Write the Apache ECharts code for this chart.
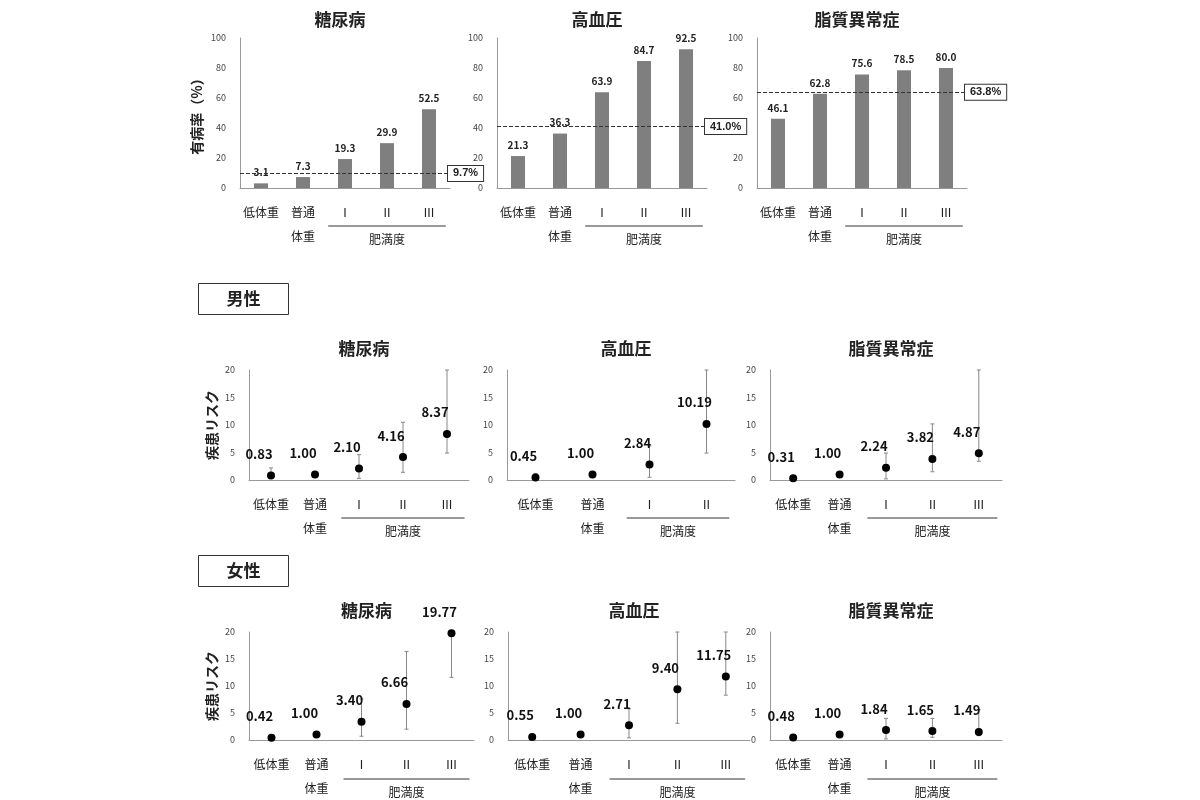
<!DOCTYPE html>
<html><head><meta charset="utf-8">
<script src="https://cdn.jsdelivr.net/npm/echarts@6/dist/echarts.min.js"></script>
<style>html,body{margin:0;background:#fff}#c{width:1200px;height:800px}</style>
</head><body><div id="c"></div>
<script>
const diseases = ['糖尿病','高血圧','脂質異常症'];
const cats5 = ['低体重','普通\n体重','Ⅰ','Ⅱ','Ⅲ'];
const cats4 = ['低体重','普通\n体重','Ⅰ','Ⅱ'];
// prevalence (%)
const prevDiabetes = [3.1,7.3,19.3,29.9,52.5];
const prevHypertension = [21.3,36.3,63.9,84.7,92.5];
const prevDyslipidemia = [46.1,62.8,75.6,78.5,80.0];
const prevOverall = [9.7,41.0,63.8];
// male risk: value, low, high
const maleDiabetes = [0.83,1.00,2.10,4.16,8.37];
const maleDiabetesLo = [0.3,0.8,0.3,1.4,4.9];
const maleDiabetesHi = [2.2,1.3,4.6,10.5,20];
const maleHyper = [0.45,1.00,2.84,10.19];
const maleHyperLo = [0.1,0.8,0.5,4.9];
const maleHyperHi = [1.2,1.3,6.2,20];
const maleLipid = [0.31,1.00,2.24,3.82,4.87];
const maleLipidLo = [0.1,0.8,0.2,1.5,3.4];
const maleLipidHi = [0.6,1.3,4.9,10.2,20];
// female risk
const femDiabetes = [0.42,1.00,3.40,6.66,19.77];
const femDiabetesLo = [0.1,0.8,0.7,2.0,11.6];
const femDiabetesHi = [0.8,1.3,7.6,16.4,20];
const femHyper = [0.55,1.00,2.71,9.40,11.75];
const femHyperLo = [0.3,0.8,0.4,3.1,8.3];
const femHyperHi = [1.0,1.3,5.8,20,20];
const femLipid = [0.48,1.00,1.84,1.65,1.49];
const femLipidLo = [0.2,0.8,0.2,0.5,0.8];
const femLipidHi = [0.9,1.3,4.0,4.0,5.6];

const FONT = '"Noto Sans CJK JP","Noto Sans",sans-serif';
const chart = echarts.init(document.getElementById('c'));
const grids=[],xAxes=[],yAxes=[],series=[],titles=[];
const panels = [
 {l:240,t:38,w:210,h:150,max:100,iv:20,cats:cats5,bar:prevDiabetes,ref:prevOverall[0]},
 {l:497,t:38,w:210,h:150,max:100,iv:20,cats:cats5,bar:prevHypertension,ref:prevOverall[1]},
 {l:757,t:38,w:210,h:150,max:100,iv:20,cats:cats5,bar:prevDyslipidemia,ref:prevOverall[2]},
 {l:249,t:370,w:220,h:110,max:20,iv:5,cats:cats5,v:maleDiabetes,lo:maleDiabetesLo,hi:maleDiabetesHi},
 {l:507,t:370,w:228,h:110,max:20,iv:5,cats:cats4,v:maleHyper,lo:maleHyperLo,hi:maleHyperHi},
 {l:770,t:370,w:232,h:110,max:20,iv:5,cats:cats5,v:maleLipid,lo:maleLipidLo,hi:maleLipidHi},
 {l:249,t:632,w:225,h:109,max:20,iv:5,cats:cats5,v:femDiabetes,lo:femDiabetesLo,hi:femDiabetesHi},
 {l:508,t:632,w:242,h:109,max:20,iv:5,cats:cats5,v:femHyper,lo:femHyperLo,hi:femHyperHi},
 {l:770,t:632,w:232,h:109,max:20,iv:5,cats:cats5,v:femLipid,lo:femLipidLo,hi:femLipidHi},
];
panels.forEach((p,i)=>{
  grids.push({left:p.l,top:p.t,width:p.w,height:p.h});
  xAxes.push({type:'category',gridIndex:i,data:p.cats,axisTick:{show:false},
    axisLine:{lineStyle:{color:'#999'}},
    axisLabel:{color:'#222',fontSize:12,fontFamily:FONT,margin:12,lineHeight:24,interval:0,verticalAlign:'top'}});
  yAxes.push({type:'value',gridIndex:i,min:0,max:p.max,interval:p.iv,splitLine:{show:false},
    axisLine:{show:true,lineStyle:{color:'#999'}},axisTick:{show:false},
    axisLabel:{color:'#444',fontSize:9,fontFamily:FONT,margin:14},
    name: i%3===0 ? (i===0?'有病率（%）':'疾患リスク') : '',
    nameLocation:'middle',nameGap:i===0?36:30,nameRotate:90,
    nameTextStyle:{fontSize:14,fontWeight:'bold',color:'#222',fontFamily:FONT}});
  titles.push({text:diseases[i%3],left:p.l+p.w/2-(i<3?10:0),top:p.t-(i<3?32:35),textAlign:'center',
    textStyle:{fontSize:17,fontWeight:'bold',color:'#222',fontFamily:FONT}});
  if(p.bar){
    series.push({type:'bar',xAxisIndex:i,yAxisIndex:i,data:p.bar,barWidth:14,
      itemStyle:{color:'#7f7f7f'},
      label:{show:true,position:'top',formatter:d=>d.value.toFixed(1),fontSize:10,fontWeight:'bold',color:'#222',fontFamily:FONT,distance:6},
      markLine:{symbol:'none',silent:true,lineStyle:{type:'dashed',color:'#333',width:1},
        data:[{yAxis:p.ref}],
        label:{position:'end',formatter:p.ref.toFixed(1)+'%',fontSize:11,fontWeight:'bold',color:'#222',
          borderColor:'#333',borderWidth:1,padding:[2,5],backgroundColor:'#fff',distance:-2}}});
  } else {
    series.push({type:'custom',xAxisIndex:i,yAxisIndex:i,
      data:p.v.map((v,j)=>[j,p.lo[j],p.hi[j]]),
      renderItem:(params,api)=>{
        const x=api.coord([api.value(0),api.value(1)]);
        const y=api.coord([api.value(0),api.value(2)]);
        const c={stroke:'#888',lineWidth:1};
        return {type:'group',children:[
          {type:'line',shape:{x1:x[0],y1:x[1],x2:y[0],y2:y[1]},style:c},
          {type:'line',shape:{x1:x[0]-2,y1:x[1],x2:x[0]+2,y2:x[1]},style:c},
          {type:'line',shape:{x1:y[0]-2,y1:y[1],x2:y[0]+2,y2:y[1]},style:c}]};
      },z:1});
    series.push({type:'scatter',xAxisIndex:i,yAxisIndex:i,data:p.v,symbolSize:8,z:3,
      itemStyle:{color:'#000',opacity:1},
      label:{show:true,position:'top',offset:[-12,-6],formatter:d=>d.value.toFixed(2),
        fontSize:13,fontWeight:'bold',color:'#111',fontFamily:FONT}});
  }
});
const boxes=[['男性',283],['女性',555]].map(([t,y])=>({type:'group',left:198,top:y,children:[
  {type:'rect',shape:{x:0,y:0,width:90,height:31},style:{fill:'#fff',stroke:'#333',lineWidth:1}},
  {type:'text',x:45,y:15.5,style:{text:t,align:'center',verticalAlign:'middle',font:'bold 17px '+FONT,fill:'#222'}}]}));
chart.setOption({animation:false,title:titles,grid:grids,xAxis:xAxes,yAxis:yAxes,series:series,graphic:boxes});
// obesity bracket under categories Ⅰ..last
const extra=[];
panels.forEach((p,i)=>{
  const n=p.cats.length;
  const a=chart.convertToPixel({xAxisIndex:i},2), b=chart.convertToPixel({xAxisIndex:i},n-1);
  const band=p.w/n; const y=p.t+p.h+38;
  extra.push({type:'line',shape:{x1:a-band*0.4,y1:y,x2:b+band*0.4,y2:y},style:{stroke:'#333',lineWidth:1}});
  extra.push({type:'text',x:(a+b)/2,y:y+7,style:{text:'肥満度',align:'center',font:'12px '+FONT,fill:'#222'}});
});
chart.setOption({graphic:boxes.concat(extra)});
</script></body></html>
